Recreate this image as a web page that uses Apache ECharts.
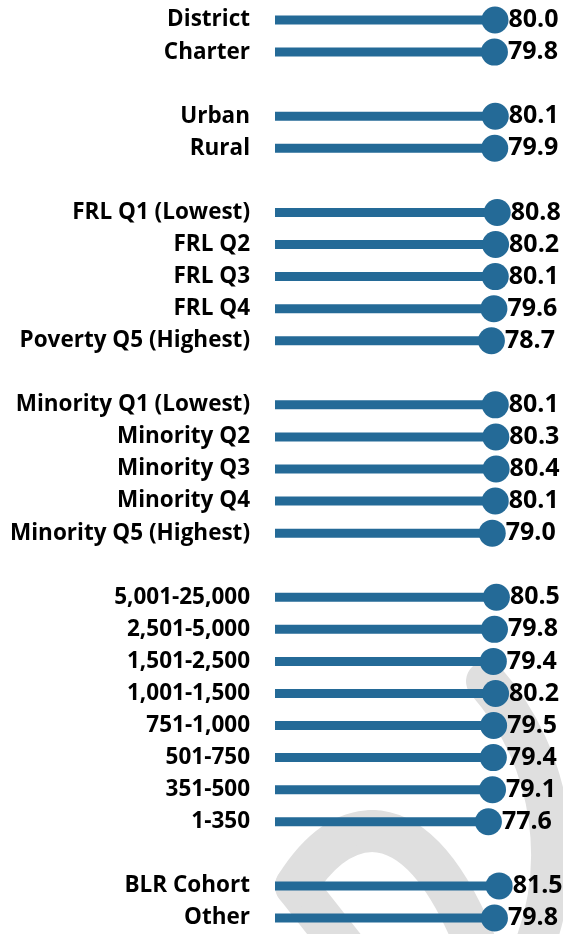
<!DOCTYPE html>
<html>
<head>
<meta charset="utf-8">
<script src="https://cdn.jsdelivr.net/npm/echarts@6/dist/echarts.min.js"></script>
<style>
  html, body { margin: 0; padding: 0; background: #ffffff; }
  #chart { width: 563px; height: 934px; }
</style>
</head>
<body>
<div id="chart"></div>
<script>
// Groups of the lollipop chart, top to bottom
const sectorLabels = ['District', 'Charter'];
const sectorValues = [80.0, 79.8];

const localeLabels = ['Urban', 'Rural'];
const localeValues = [80.1, 79.9];

const frlLabels = ['FRL Q1 (Lowest)', 'FRL Q2', 'FRL Q3', 'FRL Q4', 'Poverty Q5 (Highest)'];
const frlValues = [80.8, 80.2, 80.1, 79.6, 78.7];

const minorityLabels = ['Minority Q1 (Lowest)', 'Minority Q2', 'Minority Q3', 'Minority Q4', 'Minority Q5 (Highest)'];
const minorityValues = [80.1, 80.3, 80.4, 80.1, 79.0];

const sizeLabels = ['5,001-25,000', '2,501-5,000', '1,501-2,500', '1,001-1,500', '751-1,000', '501-750', '351-500', '1-350'];
const sizeValues = [80.5, 79.8, 79.4, 80.2, 79.5, 79.4, 79.1, 77.6];

const cohortLabels = ['BLR Cohort', 'Other'];
const cohortValues = [81.5, 79.8];

// Join the groups with one empty row between them
const groups = [
  [sectorLabels, sectorValues],
  [localeLabels, localeValues],
  [frlLabels, frlValues],
  [minorityLabels, minorityValues],
  [sizeLabels, sizeValues],
  [cohortLabels, cohortValues]
];
const categories = [];
const values = [];
groups.forEach(function (g, gi) {
  if (gi > 0) { categories.push(''); values.push(null); }
  g[0].forEach(function (name, i) { categories.push(name); values.push(g[1][i]); });
});

const barColor = '#246a97';
const fontFamily = '"Open Sans", "Noto Sans", sans-serif';
const markStroke = { stroke: '#dfdfdf', fill: null, lineCap: 'round', lineJoin: 'round' };

const chart = echarts.init(document.getElementById('chart'), null, { renderer: 'canvas' });
chart.setOption({
  backgroundColor: '#ffffff',
  animation: false,
  // light grey logo strokes behind the marks
  graphic: [
    {
      type: 'arc',
      z: -10,
      shape: { cx: 289, cy: 854, r: 262, startAngle: -0.72, endAngle: 0.45, clockwise: true },
      style: Object.assign({ lineWidth: 40 }, markStroke)
    },
    {
      type: 'line',
      z: -10,
      shape: { x1: 348, y1: 952, x2: 296, y2: 886 },
      style: Object.assign({ lineWidth: 42 }, markStroke)
    },
    {
      type: 'bezierCurve',
      z: -10,
      shape: { x1: 296, y1: 886, cpx1: 330, cpy1: 832, x2: 372, y2: 831 },
      style: Object.assign({ lineWidth: 42 }, markStroke)
    },
    {
      type: 'bezierCurve',
      z: -10,
      shape: { x1: 372, y1: 831, cpx1: 432, cpy1: 832, x2: 478, y2: 950 },
      style: Object.assign({ lineWidth: 42 }, markStroke)
    }
  ],
  grid: { left: 275, width: 275, top: 4, height: 934, containLabel: false },
  xAxis: {
    type: 'value',
    min: 0,
    max: 100,
    show: false
  },
  yAxis: {
    type: 'category',
    data: categories,
    inverse: true,
    axisLine: { show: false },
    axisTick: { show: false },
    splitLine: { show: false },
    axisLabel: {
      margin: 25,
      color: '#000000',
      fontFamily: fontFamily,
      fontWeight: 'bold',
      fontSize: 22.5,
      padding: [3, 0, 0, 0]
    }
  },
  series: [
    {
      type: 'bar',
      data: values,
      barWidth: 9,
      itemStyle: { color: barColor },
      z: 2
    },
    {
      type: 'scatter',
      data: values,
      symbol: 'circle',
      symbolSize: 27,
      itemStyle: { color: barColor, opacity: 1 },
      z: 3,
      label: {
        show: true,
        position: 'right',
        distance: 0,
        color: '#000000',
        fontFamily: fontFamily,
        fontWeight: 'bold',
        fontSize: 25,
        padding: [3, 0, 0, 0],
        formatter: function (p) { return p.value.toFixed(1); }
      }
    }
  ]
});
</script>
</body>
</html>
